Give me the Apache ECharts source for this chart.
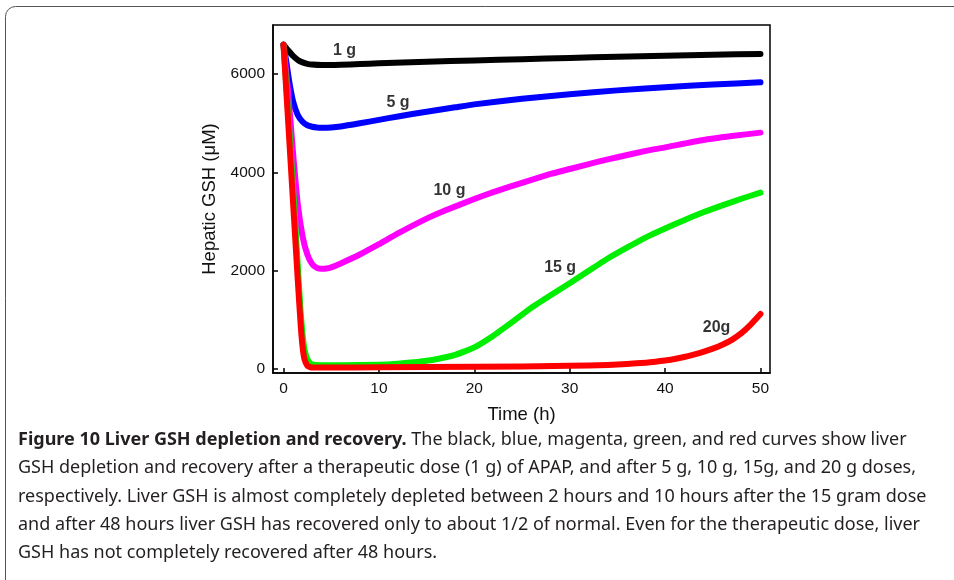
<!DOCTYPE html>
<html>
<head>
<meta charset="utf-8">
<script src="https://cdn.jsdelivr.net/npm/echarts@6/dist/echarts.min.js"></script>
<style>
html,body{margin:0;padding:0;background:#fff;}
#chart{width:954px;height:580px;}
</style>
</head>
<body>
<div id="chart"></div>
<script>
// ---- data ----
var xTicks = [0, 10, 20, 30, 40, 50];
var yTicks = [0, 2000, 4000, 6000];

var t1g = [0, 0.5, 1, 1.5, 2, 2.5, 3, 4, 5, 6, 8, 10, 15, 20, 25, 30, 35, 40, 45, 50];
var v1g = [6600, 6480, 6370, 6290, 6240, 6210, 6195, 6185, 6185, 6190, 6205, 6220, 6250, 6280, 6305, 6330, 6355, 6375, 6395, 6410];

var t5g = [0, 0.3, 0.6, 1, 1.5, 2, 2.5, 3, 3.5, 4, 5, 6, 8, 10, 12, 15, 18, 20, 25, 30, 35, 40, 45, 50];
var v5g = [6600, 6250, 5850, 5450, 5170, 5030, 4960, 4930, 4915, 4910, 4915, 4935, 5000, 5070, 5140, 5235, 5325, 5385, 5500, 5590, 5670, 5735, 5790, 5835];

var t10g = [0, 0.5, 1, 1.5, 2, 2.5, 3, 3.5, 4, 4.5, 5, 6, 8, 10, 12, 15, 17, 20, 22, 25, 28, 30, 33, 35, 38, 40, 44, 47, 50];
var v10g = [6600, 5600, 4400, 3350, 2700, 2330, 2140, 2060, 2040, 2045, 2070, 2150, 2330, 2540, 2760, 3060, 3230, 3460, 3600, 3790, 3970, 4070, 4220, 4310, 4440, 4510, 4660, 4740, 4810];

var t15g = [0, 0.5, 1, 1.5, 1.8, 2, 2.2, 2.5, 2.8, 3, 4, 6, 10, 12, 14, 15, 16, 17, 18, 19, 20, 22, 24, 26, 28, 30, 32, 34, 36, 38, 40, 42, 44, 46, 48, 50];
var v15g = [6600, 5200, 3700, 2100, 1150, 700, 400, 200, 120, 95, 80, 80, 90, 110, 145, 170, 200, 240, 290, 360, 440, 680, 960, 1250, 1500, 1745, 2000, 2250, 2470, 2680, 2860, 3030, 3190, 3330, 3465, 3590];

var t20g = [0, 0.5, 1, 1.5, 1.8, 2, 2.2, 2.5, 2.8, 3, 5, 10, 20, 30, 34, 36, 38, 39, 40, 41, 42, 43, 44, 45, 46, 47, 48, 49, 50];
var v20g = [6600, 5000, 3400, 1800, 900, 450, 200, 70, 40, 30, 30, 35, 45, 65, 85, 105, 130, 150, 175, 205, 245, 295, 350, 415, 495, 595, 730, 910, 1120];

var labelText = ['1 g', '5 g', '10 g', '15 g', '20g'];
var labelX = [6.4, 12.0, 17.4, 29.0, 45.4];
var labelY = [6473, 5418, 3632, 2070, 852];

var captionBold = 'Figure 10 Liver GSH depletion and recovery.';
var captionLines = [
  ' The black, blue, magenta, green, and red curves show liver',
  'GSH depletion and recovery after a therapeutic dose (1 g) of APAP, and after 5 g, 10 g, 15g, and 20 g doses,',
  'respectively. Liver GSH is almost completely depleted between 2 hours and 10 hours after the 15 gram dose',
  'and after 48 hours liver GSH has recovered only to about 1/2 of normal. Even for the therapeutic dose, liver',
  'GSH has not completely recovered after 48 hours.'
];

function pairs(t, v) { return t.map(function (x, i) { return [x, v[i]]; }); }

var chart = echarts.init(document.getElementById('chart'), null, {renderer: 'canvas'});
var capFont = '"Noto Sans", sans-serif';
var axFont = '"Liberation Sans", Arial, sans-serif';
var graphics = [
  {type: 'rect', shape: {x: 5.5, y: 6.5, width: 990, height: 590, r: 10},
   style: {fill: 'none', stroke: '#555', lineWidth: 1}, silent: true}
];
captionLines.forEach(function (line, i) {
  if (i === 0) {
    graphics.push({type: 'text', left: 18, top: 431,
      style: {text: '{b|' + captionBold + '}{n|' + line + '}', rich: {
        b: {fontFamily: capFont, fontSize: 18, fontWeight: 'bold', fill: '#231f20'},
        n: {fontFamily: capFont, fontSize: 18, fill: '#231f20'}}}});
  } else {
    graphics.push({type: 'text', left: 18, top: 431 + 28.3 * i,
      style: {text: line, fontFamily: capFont, fontSize: 18, fill: '#231f20'}});
  }
});

var lineSeries = function (name, t, v, color) {
  return {name: name, type: 'line', data: pairs(t, v), showSymbol: false, symbol: 'none',
    smooth: 0.15, lineStyle: {color: color, width: 6, cap: 'round', join: 'round'}, z: 3};
};

chart.setOption({
  animation: false,
  backgroundColor: '#fff',
  grid: {left: 273, right: 184, top: 25, bottom: 207, show: true, borderColor: '#000', borderWidth: 1.5, backgroundColor: 'transparent'},
  xAxis: {
    type: 'value', min: -1.1, max: 51,
    name: 'Time (h)', nameLocation: 'middle', nameGap: 32,
    nameTextStyle: {fontFamily: axFont, fontSize: 18.5, color: '#111'},
    axisLine: {onZero: false, lineStyle: {color: '#000', width: 1.5}},
    axisTick: {show: true, inside: true, length: 5, customValues: xTicks, lineStyle: {color: '#000', width: 1.5}},
    axisLabel: {customValues: xTicks, margin: 8, formatter: function (v) { return String(v); }, fontFamily: axFont, fontSize: 15.5, color: '#111'},
    splitLine: {show: false}
  },
  yAxis: {
    type: 'value', min: -80, max: 7000,
    name: 'Hepatic GSH (\u03bcM)', nameLocation: 'middle', nameGap: 54,
    nameTextStyle: {fontFamily: axFont, fontSize: 18.5, color: '#111'},
    axisLine: {show: true, onZero: false, lineStyle: {color: '#000', width: 1.5}},
    axisTick: {show: true, inside: true, length: 5, customValues: yTicks, lineStyle: {color: '#000', width: 1.5}},
    axisLabel: {customValues: yTicks, margin: 8, formatter: function (v) { return String(v); }, fontFamily: axFont, fontSize: 15.5, color: '#111'},
    splitLine: {show: false}
  },
  graphic: graphics,
  series: [
    lineSeries('1 g', t1g, v1g, '#000000'),
    lineSeries('5 g', t5g, v5g, '#0000ff'),
    lineSeries('10 g', t10g, v10g, '#ff00ff'),
    lineSeries('15 g', t15g, v15g, '#00ee00'),
    lineSeries('20 g', t20g, v20g, '#ff0000'),
    {type: 'scatter', symbolSize: 0, silent: true, z: 5,
     data: labelText.map(function (s, i) { return {name: s, value: [labelX[i], labelY[i]]}; }),
     label: {show: true, position: 'inside', formatter: function (p) { return p.name; },
       fontFamily: axFont, fontWeight: 'bold', fontSize: 16, color: '#000'}}
  ]
});
</script>
</body>
</html>
